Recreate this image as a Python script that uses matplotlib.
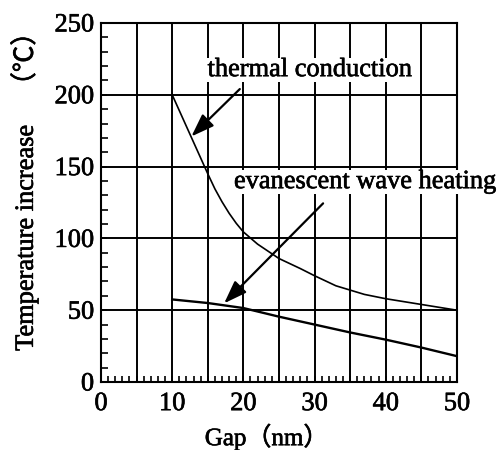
import matplotlib
matplotlib.use("Agg")
import matplotlib.pyplot as plt
import matplotlib.patheffects as pe
from matplotlib.ticker import MultipleLocator

# curves
gap_tc = [10, 11, 12, 13, 14, 15, 16, 17, 18, 19, 20, 22, 25, 28, 30, 33, 35, 37, 40, 45, 50]
temp_tc = [200, 189, 178, 167, 156, 145, 134.5, 125.5, 117.5, 110.5, 104.5, 96, 86, 79, 74, 67, 64, 61, 58, 54, 50]
gap_ew = [10, 15, 20, 25, 30, 35, 40, 45, 50]
temp_ew = [57.5, 55, 51.5, 45.5, 40, 34.5, 29.5, 24, 18]

x_ticks = [0, 10, 20, 30, 40, 50]
y_ticks = [0, 50, 100, 150, 200, 250]
x_grid = [5, 10, 15, 20, 25, 30, 35, 40, 45]
y_grid = [50, 100, 150, 200]

SERIF = ["Liberation Serif", "DejaVu Serif"]
MIXED = ["Liberation Serif", "Noto Sans CJK JP"]
BOLDEN = [pe.withStroke(linewidth=0.45, foreground="k")]

fig = plt.figure(figsize=(5.01, 4.5), dpi=100)
ax = fig.add_axes([0.2016, 0.1511, 0.7104, 0.7978])

for gx in x_grid:
    ax.axvline(gx, c="k", lw=1.4, zorder=1)
for gy in y_grid:
    ax.axhline(gy, c="k", lw=1.4, zorder=1)

ax.plot(gap_tc, temp_tc, c="k", lw=1.2, zorder=2)
ax.plot(gap_ew, temp_ew, c="k", lw=1.7, zorder=2)

box = dict(boxstyle="square,pad=0.05", fc="white", ec="none")
ax.text(29.35, 213, "thermal conduction", ha="center", va="baseline",
        fontsize=19, family=SERIF, bbox=box, zorder=5, path_effects=BOLDEN)
ax.text(37.1, 135, "evanescent wave heating", ha="center", va="baseline",
        fontsize=19, family=SERIF, bbox=box, zorder=5, clip_on=False,
        path_effects=BOLDEN)

arrow = dict(arrowstyle="-|>,head_length=0.7,head_width=0.25", mutation_scale=20,
             lw=1.6, color="k", shrinkA=0, shrinkB=0)
ax.annotate("", xy=(12.7, 171), xytext=(19.5, 204), arrowprops=arrow, zorder=4)
ax.annotate("", xy=(17.3, 54.8), xytext=(31.2, 124.4), arrowprops=arrow, zorder=4)

ax.set_xlim(0, 50)
ax.set_ylim(0, 250)
ax.set_xticks(x_ticks)
ax.set_yticks(y_ticks)
ax.xaxis.set_minor_locator(MultipleLocator(1))
ax.yaxis.set_minor_locator(MultipleLocator(10))
ax.tick_params(which="both", direction="in", top=False, right=False, width=1.2)
ax.tick_params(axis="x", which="major", length=4, pad=8)
ax.tick_params(axis="y", which="major", length=4, pad=5)
ax.tick_params(axis="x", which="minor", length=4)
ax.tick_params(axis="y", which="minor", length=5)
for lab in ax.get_xticklabels() + ax.get_yticklabels():
    lab.set_fontsize(19)
    lab.set_family(SERIF)
    lab.set_path_effects(BOLDEN)
for sp in ax.spines.values():
    sp.set_linewidth(1.5)

fig.text(0.532, 0.029, "Gap（nm）", ha="center", va="center", fontsize=18,
         family=MIXED, path_effects=BOLDEN)
fig.text(0.048, 0.589, "Temperature increase　（℃）", ha="center", va="center",
         rotation=90, fontsize=19, family=MIXED, path_effects=BOLDEN)

fig.savefig("out.png", dpi=100)
